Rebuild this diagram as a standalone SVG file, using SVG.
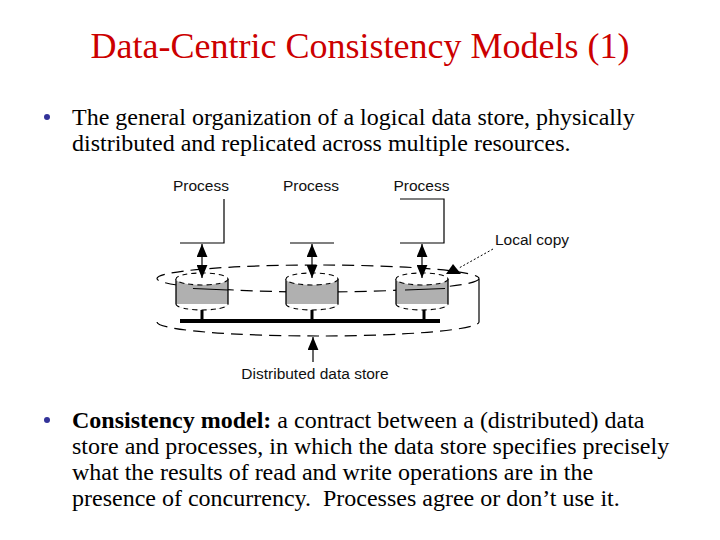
<svg xmlns="http://www.w3.org/2000/svg" width="720" height="540" viewBox="0 0 720 540">
<style>
.title{font-family:"Liberation Serif","Times New Roman",serif;font-size:36px;fill:#CC0000}
.body{font-family:"Liberation Serif","Times New Roman",serif;font-size:24px;fill:#000}
.lbl{font-family:"Liberation Sans",Arial,sans-serif;font-size:15.5px;fill:#111}
.ln{stroke:#000;stroke-width:1.2;fill:none}
.dash{stroke:#000;stroke-width:1.2;fill:none;stroke-dasharray:12 7}
.cylbody{fill:#B0B0B0;stroke:none}
.cyltop{fill:#fff;stroke:#000;stroke-width:1.1;stroke-dasharray:5 4}
.side{stroke:#000;stroke-width:1.3}
.bul{fill:#333399}
</style>
<defs>
<marker id="ah" viewBox="0 0 12 10" refX="12" refY="5" markerWidth="13" markerHeight="11" markerUnits="userSpaceOnUse" orient="auto-start-reverse">
<path d="M0,0 L12,5 L0,10 z" fill="#000"/>
</marker>
</defs>
<rect width="720" height="540" fill="#fff"/>
<text class="title" x="360" y="58" text-anchor="middle">Data-Centric Consistency Models (1)</text>
<circle class="bul" cx="47" cy="117" r="3"/>
<text class="body" x="72" y="125">The general organization of a logical data store, physically</text>
<text class="body" x="72" y="151">distributed and replicated across multiple resources.</text>
<circle class="bul" cx="47" cy="420" r="3"/>
<text class="body" x="72" y="428"><tspan font-weight="bold">Consistency model:</tspan> a contract between a (distributed) data</text>
<text class="body" x="72" y="454">store and processes, in which the data store specifies precisely</text>
<text class="body" x="72" y="480">what the results of read and write operations are in the</text>
<text class="body" x="72" y="506" xml:space="preserve">presence of concurrency.  Processes agree or don’t use it.</text>
<g id="datastore">
<ellipse class="dash" cx="318" cy="278.5" rx="161" ry="13.5"/>
<path class="dash" d="M157,322 A161,14 0 0 0 479,322"/>
<line class="ln" x1="479" y1="279" x2="479" y2="322"/>
</g>
<g id="bus">
<line x1="180" y1="321" x2="440" y2="321" stroke="#000" stroke-width="4"/>
</g>
<g id="copy1">
<path class="cylbody" d="M176,279 L176,304 A26,6 0 0 0 228,304 L228,279 z"/>
<path class="cyltop" d="M176,304 A26,6 0 0 0 228,304" fill="none"/>
<line class="side" x1="176" y1="279" x2="176" y2="304"/>
<line class="side" x1="228" y1="279" x2="228" y2="304"/>
<ellipse class="cyltop" cx="202" cy="279" rx="26" ry="6"/>
<line x1="202" y1="310" x2="202" y2="320" stroke="#000" stroke-width="3"/>
<path class="ln" d="M193,288.5 L228,290"/>
</g>
<g id="copy2">
<path class="cylbody" d="M286,279 L286,304 A26,6 0 0 0 338,304 L338,279 z"/>
<path class="cyltop" d="M286,304 A26,6 0 0 0 338,304" fill="none"/>
<line class="side" x1="286" y1="279" x2="286" y2="304"/>
<line class="side" x1="338" y1="279" x2="338" y2="304"/>
<ellipse class="cyltop" cx="312" cy="279" rx="26" ry="6"/>
<line x1="312" y1="310" x2="312" y2="320" stroke="#000" stroke-width="3"/>
</g>
<g id="copy3">
<path class="cylbody" d="M396,279 L396,304 A26,6 0 0 0 448,304 L448,279 z"/>
<path class="cyltop" d="M396,304 A26,6 0 0 0 448,304" fill="none"/>
<line class="side" x1="396" y1="279" x2="396" y2="304"/>
<line class="side" x1="448" y1="279" x2="448" y2="304"/>
<ellipse class="cyltop" cx="422" cy="279" rx="26" ry="6"/>
<line x1="424" y1="310" x2="424" y2="320" stroke="#000" stroke-width="3"/>
<path class="ln" d="M405,290 L445,288.5"/>
</g>
<g id="process1">
<text class="lbl" x="201" y="191" text-anchor="middle">Process</text>
<polyline class="ln" points="224,199 224,243 180,243"/>
</g>
<g id="process2">
<text class="lbl" x="311" y="191" text-anchor="middle">Process</text>
<line class="ln" x1="290" y1="243" x2="334" y2="243"/>
</g>
<g id="process3">
<text class="lbl" x="421.5" y="191" text-anchor="middle">Process</text>
<polyline class="ln" points="400,199 444,199 444,243 400,243"/>
</g>
<g id="local-copy-label">
<text class="lbl" x="495" y="245">Local copy</text>
</g>
<g id="distributed-label">
<text class="lbl" x="315" y="379" text-anchor="middle">Distributed data store</text>
</g>
<g id="connectors">
<line class="ln" x1="202" y1="244" x2="202" y2="278" marker-start="url(#ah)" marker-end="url(#ah)"/>
<line class="ln" x1="312" y1="244" x2="312" y2="278" marker-start="url(#ah)" marker-end="url(#ah)"/>
<line class="ln" x1="422" y1="244" x2="422" y2="278" marker-start="url(#ah)" marker-end="url(#ah)"/>
<line x1="493" y1="249" x2="459" y2="268" stroke="#000" stroke-width="1" stroke-dasharray="2 2"/>
<polygon points="453,264 446,274 461,274" fill="#000"/>
<line class="ln" x1="313" y1="362" x2="313" y2="337" marker-end="url(#ah)"/>
</g>
</svg>
